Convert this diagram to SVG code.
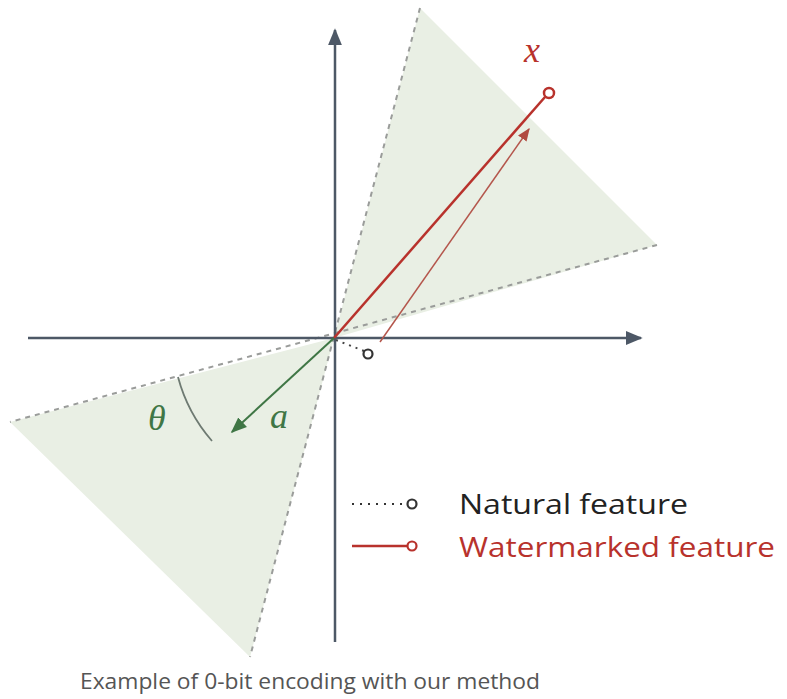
<svg xmlns="http://www.w3.org/2000/svg" width="787" height="699" viewBox="0 0 787 699">
<style>
.cone{fill:#e9efe4;stroke:none}
.bound{stroke:#9a9c9a;stroke-width:2;stroke-dasharray:5 5;fill:none}
.axis{stroke:#4d5866;stroke-width:2.5;fill:none}
.red{stroke:#b8322c;stroke-width:2.5;fill:none}
.math{font-family:"Liberation Serif",serif;font-style:italic}
.sans{font-family:"Open Sans","Noto Sans",sans-serif}
</style>
<defs>
<marker id="axhead" viewBox="0 0 10 10" refX="9" refY="5" markerWidth="17" markerHeight="14" orient="auto" markerUnits="userSpaceOnUse" preserveAspectRatio="none">
<path d="M0,0 L10,5 L0,10 z" fill="#4d5866"/>
</marker>
<marker id="ahead" viewBox="0 0 10 10" refX="9" refY="5" markerWidth="16" markerHeight="16" orient="auto" markerUnits="userSpaceOnUse">
<path d="M0,1 L10,5 L0,9 z" fill="#3f7645"/>
</marker>
<marker id="thead" viewBox="0 0 10 10" refX="9" refY="5" markerWidth="13" markerHeight="13" orient="auto" markerUnits="userSpaceOnUse">
<path d="M0,1 L10,5 L0,9 z" fill="#b04a40"/>
</marker>
</defs>
<g id="cone">
<polygon class="cone" points="334,338 420,8 657,245"/>
<polygon class="cone" points="334,338 10,422 250,657"/>
<line class="bound" x1="420" y1="8" x2="250" y2="657"/>
<line class="bound" x1="657" y1="245" x2="10" y2="422"/>
</g>
<g id="axes">
<line x1="335" y1="642" x2="335" y2="30" class="axis" marker-end="url(#axhead)"/>
<line x1="28" y1="338" x2="641" y2="338" class="axis" marker-end="url(#axhead)"/>
</g>
<g id="connectors">
<line x1="380" y1="342" x2="529" y2="129" stroke="#b4564c" stroke-width="1.5" marker-end="url(#thead)"/>
<line x1="334" y1="338" x2="545" y2="97" class="red"/>
<line x1="336" y1="340" x2="364" y2="351" stroke="#444" stroke-width="2" stroke-dasharray="2 5"/>
<line x1="334" y1="338" x2="232" y2="432" stroke="#3f7645" stroke-width="2" marker-end="url(#ahead)"/>
<path d="M178,377 A160,160 0 0 0 212,441" fill="none" stroke="#6e7a72" stroke-width="1.8"/>
</g>
<g id="x-point">
<circle cx="549" cy="93" r="5" fill="#fff" stroke="#b8322c" stroke-width="2.5"/>
<text x="524" y="62" class="math" font-size="36" fill="#b8322c">x</text>
</g>
<g id="natural-point">
<circle cx="368" cy="354" r="4.5" fill="#fff" stroke="#333" stroke-width="2.2"/>
</g>
<g id="labels">
<text x="148" y="430" class="math" font-size="36" fill="#3f7645">θ</text>
<text x="270" y="428" class="math" font-size="36" fill="#3f7645">a</text>
</g>
<g id="legend">
<line x1="352" y1="504" x2="406" y2="504" stroke="#333" stroke-width="2" stroke-dasharray="2 6"/>
<circle cx="412" cy="504" r="4.5" fill="#fff" stroke="#333" stroke-width="2.2"/>
<text x="459" y="514" class="sans" font-size="28" fill="#222" textLength="229" lengthAdjust="spacingAndGlyphs">Natural feature</text>
<line x1="352" y1="546" x2="407" y2="546" class="red"/>
<circle cx="412" cy="546" r="4.5" fill="#fff" stroke="#b8322c" stroke-width="2.2"/>
<text x="459" y="557" class="sans" font-size="28" fill="#b8322c" textLength="316" lengthAdjust="spacingAndGlyphs">Watermarked feature</text>
</g>
<g id="caption">
<text x="80" y="689" class="sans" font-size="22" fill="#555" textLength="460" lengthAdjust="spacingAndGlyphs">Example of 0-bit encoding with our method</text>
</g>
</svg>
